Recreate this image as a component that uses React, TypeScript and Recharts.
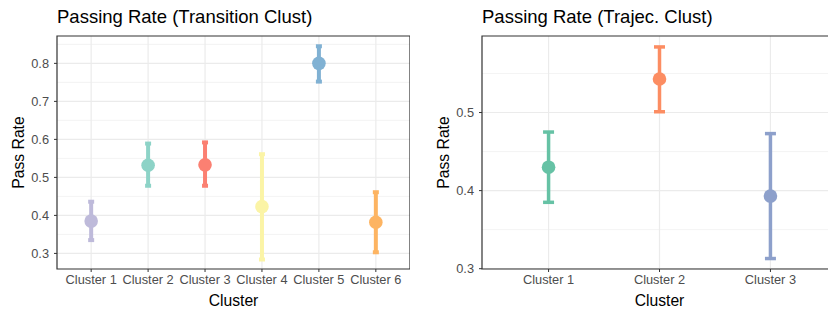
import React from "react";
import {
  ComposedChart,
  Scatter,
  ErrorBar,
  XAxis,
  YAxis,
  CartesianGrid,
  ReferenceArea,
} from "recharts";

const transClusters = ["Cluster 1", "Cluster 2", "Cluster 3", "Cluster 4", "Cluster 5", "Cluster 6"];
const transMean = [0.385, 0.532, 0.533, 0.423, 0.8, 0.382];
const transLow = [0.335, 0.478, 0.478, 0.284, 0.752, 0.303];
const transHigh = [0.436, 0.589, 0.592, 0.561, 0.845, 0.461];
const transColors = ["#BEBADA", "#8DD3C7", "#FB8072", "#FBF4A6", "#80B1D3", "#FDB462"];
const transMajor = [0.3, 0.4, 0.5, 0.6, 0.7, 0.8];
const transMinor = [0.35, 0.45, 0.55, 0.65, 0.75, 0.85];

const trajClusters = ["Cluster 1", "Cluster 2", "Cluster 3"];
const trajMean = [0.43, 0.543, 0.393];
const trajLow = [0.385, 0.501, 0.313];
const trajHigh = [0.475, 0.584, 0.473];
const trajColors = ["#66C2A5", "#FC8D62", "#8DA0CB"];
const trajMajor = [0.3, 0.4, 0.5];
const trajMinor = [0.35, 0.45, 0.55];

const FONT = "'Liberation Sans', Arial, sans-serif";

type PanelProps = {
  title: string;
  clusters: string[];
  mean: number[];
  low: number[];
  high: number[];
  colors: string[];
  major: number[];
  minor: number[];
  yDomain: [number, number];
  width: number;
  yAxisWidth: number;
  left: number;
  capWidth: number;
  barWidth: number;
  labelOffset: number;
};

const Panel = (p: PanelProps) => {
  const n = p.clusters.length;
  const xDomain: [number, number] = [0.4, n + 0.6];
  const idx = p.clusters.map((_, i) => i + 1);
  return (
    <div style={{ position: "absolute", left: p.left, top: 0, width: p.width, height: 311 }}>
      <div
        style={{
          position: "absolute",
          left: p.yAxisWidth,
          top: 7.6,
          fontFamily: FONT,
          fontSize: 18.5,
          lineHeight: "18.5px",
          color: "#000",
          whiteSpace: "nowrap",
        }}
      >
        {p.title}
      </div>
      <ComposedChart
        width={p.width}
        height={311}
        margin={{ top: 36, right: 0, bottom: 0, left: 0 }}
        style={{ fontFamily: FONT }}
      >
        <CartesianGrid
          horizontalValues={p.minor}
          vertical={false}
          stroke="#EBEBEB"
          strokeWidth={0.6}
        />
        <CartesianGrid
          horizontalValues={p.major}
          verticalValues={idx}
          stroke="#EBEBEB"
          strokeWidth={1.2}
        />
        <XAxis
          type="number"
          dataKey="x"
          domain={xDomain}
          ticks={idx}
          allowDataOverflow
          tickFormatter={(v: number) => p.clusters[v - 1] ?? ""}
          height={42}
          tickSize={3}
          tickMargin={3}
          axisLine={false}
          tickLine={{ stroke: "#333333" }}
          tick={{ fill: "#4D4D4D", fontSize: 12.8 }}
          interval={0}
          label={{
            value: "Cluster",
            position: "insideBottom",
            offset: 5,
            style: { fill: "#000", fontSize: 15.7 },
          }}
        />
        <YAxis
          type="number"
          dataKey="y"
          domain={p.yDomain}
          ticks={p.major}
          allowDataOverflow
          width={p.yAxisWidth}
          tickSize={3}
          tickMargin={5}
          axisLine={false}
          tickLine={{ stroke: "#333333" }}
          tick={{ fill: "#4D4D4D", fontSize: 12.8 }}
          tickFormatter={(v: number) => v.toFixed(1)}
          label={{
            value: "Pass Rate",
            angle: -90,
            position: "insideLeft",
            offset: p.labelOffset,
            style: { fill: "#000", fontSize: 15.7, textAnchor: "middle" },
          }}
        />
        <ReferenceArea
          x1={xDomain[0]}
          x2={xDomain[1]}
          y1={p.yDomain[0]}
          y2={p.yDomain[1]}
          fill="none"
          stroke="#333333"
          strokeWidth={1.2}
          ifOverflow="visible"
        />
        {p.clusters.map((c, i) => (
          <Scatter
            key={c}
            name={c}
            data={[{ x: i + 1, y: p.mean[i], err: [p.mean[i] - p.low[i], p.high[i] - p.mean[i]] }]}
            fill={p.colors[i]}
            isAnimationActive={false}
            shape={(s: any) => <circle cx={s.cx} cy={s.cy} r={6.8} fill={p.colors[i]} />}
          >
            <ErrorBar
              dataKey="err"
              direction="y"
              width={p.capWidth}
              stroke={p.colors[i]}
              strokeWidth={p.barWidth}
              isAnimationActive={false}
            />
          </Scatter>
        ))}
      </ComposedChart>
    </div>
  );
};

export default function App() {
  return (
    <div
      style={{
        position: "absolute",
        left: 0,
        top: 0,
        width: 828,
        height: 311,
        overflow: "hidden",
        background: "#fff",
      }}
    >
      <Panel
        title="Passing Rate (Transition Clust)"
        clusters={transClusters}
        mean={transMean}
        low={transLow}
        high={transHigh}
        colors={transColors}
        major={transMajor}
        minor={transMinor}
        yDomain={[0.259, 0.872]}
        width={410}
        yAxisWidth={57}
        left={0}
        capWidth={3}
        barWidth={4}
        labelOffset={18}
      />
      <Panel
        title="Passing Rate (Trajec. Clust)"
        clusters={trajClusters}
        mean={trajMean}
        low={trajLow}
        high={trajHigh}
        colors={trajColors}
        major={trajMajor}
        minor={trajMinor}
        yDomain={[0.2996, 0.598]}
        width={423}
        yAxisWidth={68}
        left={414}
        capWidth={5.5}
        barWidth={3.5}
        labelOffset={29}
      />
    </div>
  );
}
